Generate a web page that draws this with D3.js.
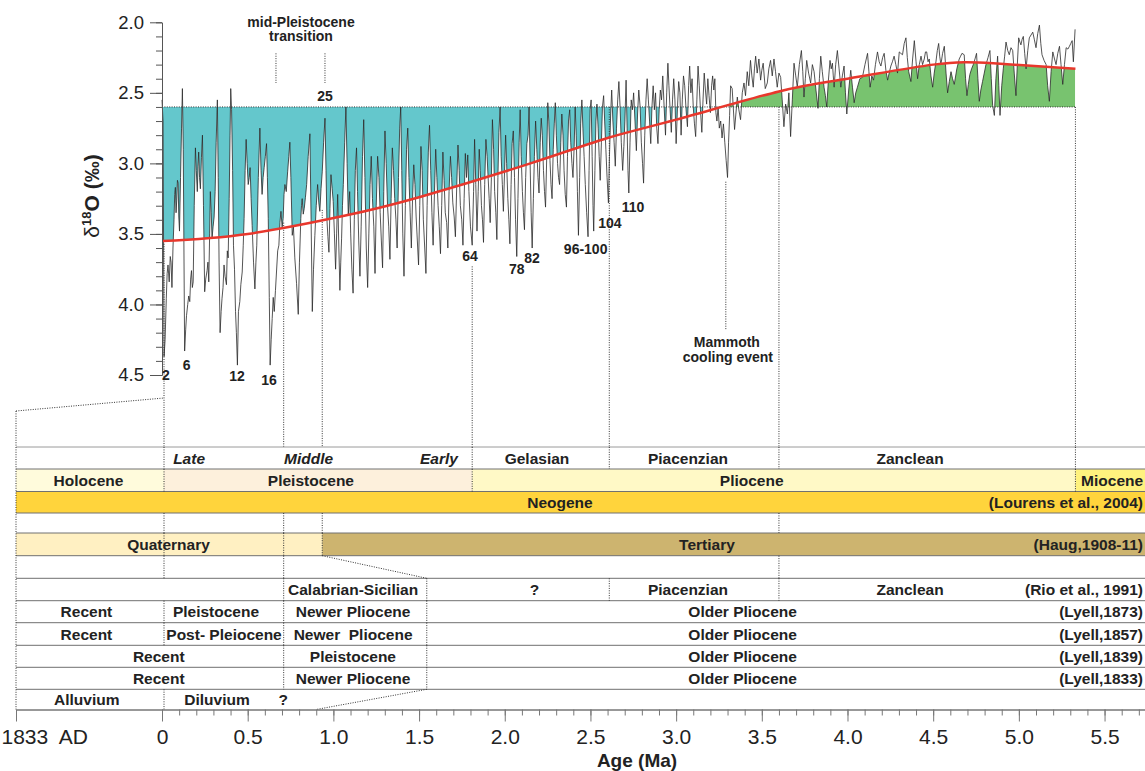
<!DOCTYPE html>
<html>
<head>
<meta charset="utf-8">
<script src="https://cdn.jsdelivr.net/npm/d3@7"></script>
<style>
  html, body { margin: 0; padding: 0; background: #fff; }
  svg { display: block; font-family: Arial, "Liberation Sans", Helvetica, sans-serif; }
</style>
</head>
<body>
<svg id="chart" width="1145" height="771"></svg>
<script>
// benthic d18O stack, [age (Ma), d18O (permil)]
const record0 = [
  [0.000,2.55],[0.006,2.70],[0.012,4.37],[0.018,4.25],[0.025,3.96],[0.030,3.78],[0.035,3.72],[0.042,3.84],
  [0.048,3.66],[0.053,3.70],[0.058,3.88],[0.064,3.60],[0.070,3.40],[0.074,3.22],[0.078,3.17],[0.082,3.35],
  [0.086,3.26],[0.090,3.12],[0.094,3.14],[0.098,3.38],[0.102,3.48],[0.108,3.10],[0.114,2.75],[0.119,2.47],
  [0.124,2.90],[0.132,4.33],[0.138,4.18],[0.143,4.08],[0.150,4.00],[0.156,3.94],[0.162,3.98],[0.167,3.82],
  [0.172,3.76],[0.177,3.88],[0.182,3.84],[0.188,3.30],[0.195,2.89],[0.200,3.05],[0.206,3.20],[0.210,3.02],
  [0.214,2.92],[0.219,3.10],[0.224,3.18],[0.230,2.96],[0.236,2.80],[0.242,3.30],[0.249,3.91],[0.255,3.82],
  [0.263,3.76],[0.268,3.70],[0.273,3.84],[0.278,3.50],[0.282,3.20],[0.287,3.35],[0.292,3.53],[0.298,3.45],
  [0.304,3.38],[0.310,3.20],[0.316,2.85],[0.323,2.55],[0.328,3.10],[0.333,3.70],[0.339,4.20],[0.345,4.05],
  [0.350,3.96],[0.356,3.88],[0.362,3.72],[0.368,3.80],[0.376,3.86],[0.381,3.62],[0.386,3.67],[0.392,3.25],
  [0.397,2.80],[0.401,2.47],[0.406,2.62],[0.412,3.05],[0.417,3.58],[0.423,3.75],[0.429,4.05],[0.434,4.20],
  [0.440,4.43],[0.446,4.05],[0.454,3.98],[0.460,3.86],[0.468,3.77],[0.474,3.58],[0.479,3.39],[0.485,3.05],
  [0.491,2.83],[0.497,3.00],[0.503,3.15],[0.509,3.10],[0.514,3.03],[0.520,3.25],[0.526,3.44],[0.534,3.70],
  [0.542,3.89],[0.548,3.70],[0.553,3.58],[0.562,3.10],[0.571,2.75],[0.578,3.05],[0.584,3.22],[0.590,3.10],
  [0.596,3.03],[0.603,2.95],[0.610,2.86],[0.615,3.10],[0.620,3.39],[0.626,3.95],[0.631,4.43],[0.637,4.25],
  [0.643,4.10],[0.649,3.95],[0.655,4.05],[0.662,3.90],[0.668,3.77],[0.675,3.62],[0.682,3.58],[0.688,3.42],
  [0.694,3.34],[0.701,3.45],[0.707,3.39],[0.712,3.22],[0.717,3.15],[0.725,3.20],[0.733,3.06],[0.740,2.95],
  [0.746,2.85],[0.752,3.10],[0.760,3.51],[0.767,3.45],[0.775,3.67],[0.785,3.85],[0.795,4.07],[0.802,3.70],
  [0.810,3.39],[0.814,3.30],[0.818,3.25],[0.824,3.36],[0.830,3.32],[0.837,3.24],[0.844,3.15],[0.853,2.95],
  [0.863,2.79],[0.870,3.40],[0.877,4.05],[0.884,3.75],[0.892,3.51],[0.900,3.30],[0.908,3.15],[0.915,3.28],
  [0.921,3.34],[0.928,3.18],[0.935,3.06],[0.943,2.85],[0.951,2.68],[0.957,3.05],[0.962,3.39],[0.968,3.52],
  [0.974,3.63],[0.980,3.32],[0.986,3.08],[0.993,3.18],[0.999,3.27],[1.006,3.50],[1.013,3.75],[1.019,3.50],
  [1.025,3.22],[1.032,3.60],[1.038,3.90],[1.043,3.70],[1.048,3.53],[1.053,3.30],[1.058,3.15],[1.066,2.85],
  [1.073,2.60],[1.080,3.00],[1.087,3.37]
];
const record1 = [
  [1.095,3.20],[1.101,3.50],[1.108,3.75],[1.115,3.92],[1.122,3.40],[1.128,3.05],[1.135,2.89],[1.141,3.20],
  [1.148,3.55],[1.155,3.80],[1.162,3.45],[1.170,2.95],[1.177,2.69],[1.184,3.10],[1.192,3.60],[1.200,3.88],
  [1.207,3.50],[1.214,3.15],[1.221,2.95],[1.228,3.25],[1.236,3.45],[1.243,3.78],[1.250,3.30],[1.258,2.95],
  [1.266,3.10],[1.273,3.35],[1.280,3.55],[1.287,3.74],[1.294,3.20],[1.301,2.77],[1.308,3.00],[1.316,3.30],
  [1.323,3.45],[1.330,3.68],[1.337,3.25],[1.344,2.89],[1.351,3.05],[1.358,3.25],[1.365,3.40],[1.372,3.60],
  [1.380,3.10],[1.387,2.75],[1.393,2.60],[1.399,3.05],[1.405,3.50],[1.412,3.80],[1.420,3.30],[1.427,2.90],
  [1.434,2.75],[1.441,3.10],[1.448,3.35],[1.455,3.60],[1.462,3.25],[1.469,3.01],[1.476,3.15],[1.483,3.38],
  [1.490,3.55],[1.497,3.72],[1.504,3.30],[1.511,2.88],[1.518,3.05],[1.525,3.40],[1.533,3.60],[1.540,3.78],
  [1.547,3.30],[1.554,2.92],[1.561,2.73],[1.568,3.05],[1.575,3.35],[1.582,3.58],[1.590,3.20],[1.597,2.90],
  [1.604,3.10],[1.611,3.30],[1.618,3.45],[1.625,3.64],[1.632,3.30],[1.639,2.92],[1.646,3.12],[1.653,3.35],
  [1.661,3.42],[1.668,3.60],[1.675,3.20],[1.683,2.95],[1.690,3.10],[1.697,3.28],[1.705,3.38],[1.712,3.52],
  [1.720,3.15],[1.727,2.87],[1.734,3.05],[1.741,3.30],[1.749,3.40],[1.756,3.58],[1.763,3.25],[1.770,2.93],
  [1.777,3.10],[1.784,2.94],[1.791,3.20],[1.800,3.45],[1.810,3.58],[1.818,3.20],[1.824,2.83],[1.831,3.15],
  [1.838,3.48],[1.845,3.20],[1.851,2.90],[1.857,3.05],[1.864,3.30],[1.870,3.40],[1.876,3.56],[1.883,3.15],
  [1.890,2.83],[1.897,2.95],[1.903,3.10],[1.909,3.25],[1.915,3.42],[1.922,3.10],[1.928,2.69],[1.935,2.90],
  [1.941,3.20],[1.948,3.35],[1.954,3.54],[1.960,3.10],[1.966,2.78],[1.973,2.60],[1.979,2.95],[1.986,3.15],
  [1.992,3.34],[1.999,3.05],[2.005,2.80],[2.011,3.00],[2.018,3.25],[2.024,3.40],[2.030,3.57],[2.037,3.15],
  [2.043,2.86],[2.050,2.77],[2.057,3.10],[2.063,3.40],[2.070,3.66],[2.077,3.25],[2.084,2.85],[2.090,2.62],
  [2.096,2.95],[2.103,3.20],[2.109,3.35],[2.115,3.47],[2.122,3.10],[2.129,2.86],[2.136,2.80],[2.142,2.60],
  [2.148,3.00],[2.154,3.35],[2.160,3.60],[2.167,3.25]
];
const record2 = [
  [2.173,2.95],[2.180,2.70],[2.187,2.90],[2.194,3.10],[2.200,3.21],[2.207,2.85],[2.213,2.68],[2.219,2.80],
  [2.226,3.05],[2.232,3.20],[2.238,3.31],[2.245,2.95],[2.251,2.57],[2.257,2.70],[2.264,2.98],[2.270,3.15],
  [2.276,3.25],[2.283,2.90],[2.289,2.72],[2.295,2.57],[2.301,2.80],[2.308,3.00],[2.314,3.10],[2.320,3.15],
  [2.327,2.85],[2.333,2.65],[2.340,2.80],[2.346,3.05],[2.353,3.22],[2.360,3.31],[2.366,2.95],[2.372,2.70],
  [2.379,2.62],[2.385,2.85],[2.392,3.00],[2.398,3.10],[2.405,2.88],[2.411,2.60],[2.417,2.80],[2.424,3.20],
  [2.430,3.51],[2.437,3.10],[2.443,2.72],[2.450,2.55],[2.456,2.75],[2.463,2.95],[2.470,3.15],[2.478,3.35],
  [2.486,3.52],[2.492,3.05],[2.498,2.62],[2.504,2.55],[2.510,2.95],[2.515,3.30],[2.519,3.48],[2.526,3.05],
  [2.532,2.70],[2.538,2.58],[2.545,2.75],[2.551,2.95],[2.557,3.12],[2.564,2.85],[2.570,2.60],[2.577,2.52],
  [2.583,2.70],[2.590,2.90],[2.597,3.10],[2.605,3.28],[2.611,2.95],[2.618,2.65],[2.624,2.48],[2.631,2.70],
  [2.638,2.85],[2.645,3.02],[2.652,2.75],[2.659,2.55],[2.666,2.42],[2.673,2.60],[2.680,2.85],[2.688,3.05],
  [2.695,2.88],[2.701,2.70],[2.708,2.41],[2.714,2.75],[2.719,3.05],[2.724,3.21],[2.731,2.85],[2.738,2.55],
  [2.745,2.62],[2.752,2.50],[2.760,2.70],[2.768,2.91],[2.775,2.65],[2.782,2.48],[2.790,2.60],[2.797,2.85],
  [2.804,3.00],[2.810,3.14],[2.817,2.80],[2.824,2.55],[2.831,2.40],[2.838,2.55],[2.845,2.70],[2.852,2.86],
  [2.859,2.60],[2.866,2.45],[2.873,2.62],[2.880,2.50],[2.887,2.75],[2.894,2.86],[2.901,2.62],[2.908,2.48],
  [2.915,2.55],[2.922,2.38],[2.930,2.60],[2.938,2.80],[2.945,2.50],[2.952,2.29],[2.958,2.45],[2.965,2.62],
  [2.972,2.78],[2.979,2.55],[2.986,2.40],[2.993,2.55],[3.000,2.86],[3.008,2.60],[3.015,2.42],[3.022,2.50],
  [3.029,2.80],[3.036,2.55],[3.043,2.38],[3.050,2.45],[3.058,2.62],[3.066,2.74],[3.073,2.45],[3.079,2.31],
  [3.086,2.50],[3.093,2.40],[3.100,2.60],[3.107,2.72],[3.114,2.81],[3.121,2.55],[3.128,2.31],[3.135,2.45],
  [3.142,2.62],[3.150,2.78],[3.157,2.55],[3.164,2.36],[3.171,2.48],[3.178,2.58],[3.185,2.40],[3.192,2.52],
  [3.200,2.64],[3.207,2.45],[3.213,2.38],[3.220,2.48],[3.226,2.40],[3.232,2.64],[3.238,2.70],[3.245,2.60],
  [3.252,2.75],[3.260,2.70],[3.268,2.82],[3.276,2.72],[3.284,2.85],[3.292,2.98],[3.300,3.10],[3.306,2.85],
  [3.312,2.66],[3.318,2.45]
];
const record3 = [
  [3.327,2.47],[3.341,2.76],[3.357,2.53],[3.366,2.62],[3.376,2.69],[3.386,2.50],[3.396,2.43],[3.405,2.52],
  [3.415,2.35],[3.424,2.45],[3.434,2.27],[3.442,2.38],[3.450,2.46],[3.457,2.33],[3.464,2.24],[3.473,2.36],
  [3.483,2.26],[3.493,2.41],[3.500,2.34],[3.508,2.29],[3.520,2.47],[3.532,2.43],[3.541,2.33],[3.551,2.27],
  [3.561,2.38],[3.571,2.26],[3.580,2.35],[3.590,2.46],[3.600,2.36],[3.610,2.39],[3.619,2.55],[3.629,2.74],
  [3.639,2.58],[3.649,2.65],[3.658,2.50],[3.668,2.81],[3.678,2.55],[3.688,2.29],[3.698,2.38],[3.707,2.46],
  [3.719,2.30],[3.731,2.20],[3.739,2.35],[3.746,2.53],[3.754,2.40],[3.762,2.27],[3.773,2.36],[3.785,2.43],
  [3.795,2.30],[3.805,2.35],[3.816,2.48],[3.828,2.61],[3.836,2.40],[3.844,2.24],[3.853,2.35],[3.863,2.46],
  [3.871,2.52],[3.879,2.60],[3.888,2.42],[3.898,2.27],[3.905,2.33],[3.912,2.29],[3.917,2.38],[3.922,2.46],
  [3.931,2.30],[3.941,2.20],[3.951,2.33],[3.961,2.46],[3.970,2.38],[3.980,2.31],[3.988,2.50],[3.996,2.65],
  [4.007,2.48],[4.019,2.34],[4.029,2.46],[4.039,2.57],[4.048,2.50],[4.058,2.46],[4.072,2.40],[4.087,2.39],
  [4.102,2.30],[4.117,2.22],[4.125,2.35],[4.132,2.46],[4.142,2.38],[4.152,2.41],[4.163,2.30],[4.175,2.21],
  [4.185,2.28],[4.195,2.31],[4.205,2.25],[4.214,2.22],[4.224,2.34],[4.234,2.41],[4.243,2.36],[4.253,2.31],
  [4.262,2.28],[4.272,2.24],[4.282,2.30],[4.292,2.36],[4.302,2.21],[4.311,2.22],[4.321,2.23],[4.331,2.15],
  [4.341,2.11],[4.349,2.25],[4.357,2.35],[4.370,2.42],[4.380,2.26],[4.390,2.13],[4.400,2.28],[4.409,2.40],
  [4.419,2.30],[4.429,2.24],[4.438,2.30],[4.448,2.26],[4.455,2.21],[4.462,2.21],[4.470,2.28],[4.477,2.26],
  [4.487,2.38],[4.497,2.46],[4.506,2.36],[4.516,2.28],[4.524,2.20],[4.532,2.15],[4.538,2.24],[4.545,2.30],
  [4.555,2.22],[4.565,2.17],[4.575,2.36],[4.584,2.50],[4.594,2.42],[4.604,2.35],[4.613,2.40],[4.623,2.44],
  [4.638,2.33],[4.652,2.26],[4.660,2.24],[4.668,2.22],[4.681,2.23],[4.689,2.40],[4.697,2.52],[4.705,2.44],
  [4.714,2.37],[4.724,2.33],[4.734,2.30],[4.744,2.26],[4.753,2.22],[4.761,2.40],[4.769,2.56],[4.778,2.48],
  [4.788,2.42],[4.798,2.36],[4.808,2.30],[4.820,2.25],[4.831,2.20],[4.839,2.40],[4.847,2.59],[4.857,2.66],
  [4.866,2.40],[4.876,2.24],[4.883,2.45],[4.890,2.66],[4.900,2.45],[4.909,2.33],[4.917,2.24],[4.925,2.14],
  [4.935,2.20],[4.944,2.23],[4.954,2.18],[4.964,2.20],[4.973,2.36],[4.983,2.52],[4.991,2.30],[4.999,2.11],
  [5.006,2.14],[5.012,2.16],[5.019,2.12],[5.026,2.10],[5.034,2.22],[5.042,2.33],[5.052,2.20],[5.061,2.11],
  [5.071,2.09],[5.081,2.07],[5.090,2.12],[5.100,2.18],[5.110,2.08],[5.120,2.02],[5.128,2.15],[5.135,2.23],
  [5.147,2.27],[5.159,2.30],[5.168,2.45],[5.178,2.56],[5.188,2.35],[5.198,2.21],[5.208,2.26],[5.217,2.30],
  [5.227,2.22],[5.237,2.17],[5.246,2.30],[5.256,2.44],[5.266,2.30],[5.276,2.18],[5.286,2.19],[5.295,2.17],
  [5.303,2.15],[5.311,2.13],[5.318,2.28],[5.328,2.05]
];

// smoothed long-term trend (red line)
const trend = [
  [0,3.55],[0.5,3.50],[1.07,3.37],[1.5,3.24],[2.15,3.00],[2.6,2.82],[3.0,2.69],
  [3.6,2.49],[4.0,2.40],[4.5,2.30],[4.85,2.29],[5.33,2.33]
];
const baseline = 2.6;     // dotted reference level
const recordEnd = 5.33;

const AD = -0.852;        // schematic position of the "1833 AD" tick on the age axis
const END = 5.736;        // right edge of the timescale table

const yMajor = [2.0, 2.5, 3.0, 3.5, 4.0, 4.5];
const yMinor = d3.range(20, 46).map(d => d / 10);
const xMajor = [AD, 0, 0.5, 1.0, 1.5, 2.0, 2.5, 3.0, 3.5, 4.0, 4.5, 5.0, 5.5];
const xMinor = d3.range(0, 58).map(d => d / 10);

// marine isotope stage numbers and notes on the curve: [text, age, d18O]
const stageLabels = [
  ["2",0.022,4.50],["6",0.144,4.43],["12",0.438,4.51],["16",0.624,4.535],["25",0.951,2.52],
  ["64",1.797,3.66],["78",2.070,3.75],["82",2.159,3.67],["96-100",2.472,3.61],["104",2.614,3.42],["110",2.748,3.31],
  ["mid-Pleistocene",0.811,2.00],["transition",0.811,2.10],
  ["Mammoth",3.296,4.27],["cooling event",3.302,4.375]
];

// dotted guides in the plot: age, top and bottom in d18O (bottom null = down to the table)
const guides = [
  [0.0117,3.57,null],[0.71,3.42,null],[0.935,3.33,null],[1.81,3.73,null],
  [2.61,2.6,null],[3.60,2.6,null],[5.33,2.6,null],
  [0.665,2.22,2.43],[0.951,2.22,2.43],[3.29,3.13,4.18]
];

// timescale table: one entry per row slot
const tableRows = [
  {slot:0, seps:[0.0117,1.81,2.61,3.60,5.33], labels:[["Late",0.158,1],["Middle",0.855,1],["Early",1.616,1],
    ["Gelasian",2.188],["Piacenzian",3.069],["Zanclean",4.365]]},
  {slot:1, seps:[0.0117,1.81,5.33], bars:[["Holocene",AD,0.0117],["Pleistocene",0.0117,1.81],["Pliocene",1.81,5.33],["Miocene",5.33,END]],
    labels:[["Holocene",-0.429],["Pleistocene",0.869],["Pliocene",3.441],["Miocene",5.544]]},
  {slot:2, seps:[], bars:[["Neogene",AD,END]], labels:[["Neogene",2.322]], ref:"(Lourens et al., 2004)"},
  {slot:3, seps:[0.0117,0.71,0.935,3.60], labels:[]},
  {slot:4, seps:[0.0117,0.71,0.935], bars:[["Quaternary",AD,0.935],["Tertiary",0.935,END]],
    labels:[["Quaternary",0.038],["Tertiary",3.18]], ref:"(Haug,1908-11)"},
  {slot:5, seps:[0.0117,0.71,3.60], slant:[0.935,1.545], labels:[]},
  {slot:6, seps:[0.71,1.545,2.61,3.60], labels:[["Calabrian-Sicilian",1.115],["?",2.174],["Piacenzian",3.069],["Zanclean",4.365]],
    ref:"(Rio et al., 1991)"},
  {slot:7, seps:[0.0117,0.71,1.545], labels:[["Recent",-0.441],["Pleistocene",0.315],["Newer Pliocene",1.115],["Older Pliocene",3.388]],
    ref:"(Lyell,1873)"},
  {slot:8, seps:[0.0117,0.71,1.545], labels:[["Recent",-0.441],["Post- Pleiocene",0.362],["Newer  Pliocene",1.115],["Older Pliocene",3.388]],
    ref:"(Lyell,1857)"},
  {slot:9, seps:[0.71,1.545], labels:[["Recent",-0.019],["Pleistocene",1.114],["Older Pliocene",3.388]], ref:"(Lyell,1839)"},
  {slot:10, seps:[0.71,1.545], labels:[["Recent",-0.019],["Newer Pliocene",1.115],["Older Pliocene",3.388]], ref:"(Lyell,1833)"},
  {slot:11, seps:[0.0117], slant:[1.545,0.899], labels:[["Alluvium",-0.439],["Diluvium",0.321],["?",0.708]]}
];

const barColor = {
  Holocene:"#fffbdc", Pleistocene:"#fdf0dc", Pliocene:"#fff9c6", Miocene:"#fff27e",
  Neogene:"#ffd43c", Quaternary:"#fff0c2", Tertiary:"#cdb46f"
};

// ---------------------------------------------------------------
const width = 1145, height = 771;
const rowEdges = [447, 469, 491.5, 513, 533, 555.7, 578.3, 600.7, 622.7, 645.3, 667.3, 689.3, 709.5];
const gapTop = 398, gapLeft = 411;   // where the dotted lead-in meets the table

const x = d3.scaleLinear().domain([AD, END]).range([16, 1145]);
const y = d3.scaleLinear().domain([2.0, 4.5]).range([22.3, 375]);

const svg = d3.select("#chart");
const record = record0.concat(record1, record2, record3);
const dotted = "1,1.4";
const ink = "#222";

// --- fills between the 2.6 level, the record and the trend ---
const defs = svg.append("defs");
const trendArea = d3.area().curve(d3.curveNatural)
    .x(d => x(d[0])).y0(y(baseline)).y1(d => y(d[1]));
const dataArea = d3.area()
    .x(d => x(d[0])).y0(y(baseline)).y1(d => y(d[1]));

defs.append("clipPath").attr("id", "clip-trend")
  .append("path").attr("d", trendArea(trend));
defs.append("clipPath").attr("id", "clip-below")
  .append("rect").attr("x", 0).attr("y", y(baseline)).attr("width", width).attr("height", height);
defs.append("clipPath").attr("id", "clip-above")
  .append("rect").attr("x", 0).attr("y", 0).attr("width", width).attr("height", y(baseline));

const fillG = svg.append("g").attr("clip-path", "url(#clip-trend)");
fillG.append("path").attr("d", dataArea(record)).attr("fill", "#64c7cc").attr("clip-path", "url(#clip-below)");
fillG.append("path").attr("d", dataArea(record)).attr("fill", "#78c36f").attr("clip-path", "url(#clip-above)");

svg.append("line")
    .attr("x1", x(0)).attr("x2", x(recordEnd))
    .attr("y1", y(baseline)).attr("y2", y(baseline))
    .attr("stroke", "#333").attr("stroke-dasharray", dotted);

// --- dotted guides ---
const guideG = svg.append("g").attr("stroke", "#333").attr("stroke-dasharray", dotted).attr("fill", "none");
guides.forEach(([age, top, bottom]) => {
  guideG.append("line")
      .attr("x1", x(age)).attr("x2", x(age))
      .attr("y1", y(top)).attr("y2", bottom == null ? rowEdges[0] : y(bottom));
});
guideG.append("line").attr("x1", x(AD)).attr("x2", x(0.0117)).attr("y1", gapLeft).attr("y2", gapTop);

// --- record and trend ---
svg.append("path")
    .attr("d", d3.line().x(d => x(d[0])).y(d => y(d[1]))(record))
    .attr("fill", "none").attr("stroke", "#2a2a2a").attr("stroke-width", 0.8)
    .attr("stroke-linejoin", "round");

svg.append("path")
    .attr("d", d3.line().curve(d3.curveNatural).x(d => x(d[0])).y(d => y(d[1]))(trend))
    .attr("fill", "none").attr("stroke", "#e8372c").attr("stroke-width", 2.5);

// --- y axis ---
const yMinorG = svg.append("g").attr("transform", `translate(${x(0)},0)`)
    .call(d3.axisLeft(y).tickValues(yMinor).tickSize(6).tickFormat("").tickSizeOuter(0));
const yAxisG = svg.append("g").attr("transform", `translate(${x(0)},0)`)
    .call(d3.axisLeft(y).tickValues(yMajor).tickSize(12).tickPadding(6)
      .tickFormat(d3.format(".1f")).tickSizeOuter(0));
[yMinorG, yAxisG].forEach(g => {
  g.selectAll("path, line").attr("stroke", "#555");
  g.attr("font-family", null).attr("font-size", null);
});
yAxisG.selectAll("text").attr("fill", ink).style("font-size", "18.5px");

const yTitle = svg.append("text")
    .attr("transform", "translate(92,196) rotate(-90)")
    .attr("text-anchor", "middle").attr("dy", "0.35em")
    .attr("fill", ink).style("font-size", "21px").style("font-weight", "bold");
yTitle.append("tspan").style("font-weight", "normal").text("δ");
yTitle.append("tspan").attr("dy", -8).style("font-size", "13px").text("18");
yTitle.append("tspan").attr("dy", 8).text("O (‰)");

// --- annotations on the curve ---
svg.append("g").selectAll("text").data(stageLabels).join("text")
    .attr("x", d => x(d[1])).attr("y", d => y(d[2])).attr("dy", "0.35em")
    .attr("text-anchor", "middle").attr("fill", ink)
    .style("font-size", "14px").style("font-weight", "bold")
    .text(d => d[0]);

// --- timescale table ---
const table = svg.append("g");
const slotTop = s => rowEdges[s], slotBot = s => rowEdges[s + 1];

tableRows.forEach(r => {
  (r.bars || []).forEach(([name, from, to]) => {
    table.append("rect")
        .attr("x", x(from)).attr("width", x(to) - x(from))
        .attr("y", slotTop(r.slot)).attr("height", slotBot(r.slot) - slotTop(r.slot))
        .attr("fill", barColor[name]);
  });
});

rowEdges.slice(0, -1).forEach((e, i) => {
  table.append("line")
      .attr("x1", x(AD)).attr("x2", x(END)).attr("y1", e).attr("y2", e)
      .attr("stroke", i === 0 ? "#9a9a9a" : "#707070").attr("stroke-width", 1);
});

const sepG = table.append("g").attr("stroke", "#333").attr("stroke-dasharray", dotted);
tableRows.forEach(r => {
  r.seps.forEach(a => {
    sepG.append("line").attr("x1", x(a)).attr("x2", x(a))
        .attr("y1", slotTop(r.slot)).attr("y2", slotBot(r.slot));
  });
  if (r.slant) {
    sepG.append("line")
        .attr("x1", x(r.slant[0])).attr("y1", slotTop(r.slot))
        .attr("x2", x(r.slant[1])).attr("y2", slotBot(r.slot));
  }
});
sepG.append("line").attr("x1", x(AD)).attr("x2", x(AD)).attr("y1", gapLeft).attr("y2", rowEdges[rowEdges.length - 1]);

tableRows.forEach(r => {
  const cy = (slotTop(r.slot) + slotBot(r.slot)) / 2;
  r.labels.forEach(([txt, at, italic]) => {
    table.append("text")
        .attr("x", x(at)).attr("y", cy).attr("dy", "0.36em")
        .attr("text-anchor", "middle").attr("fill", ink)
        .style("font-size", "15.5px").style("font-weight", "bold")
        .style("font-style", italic ? "italic" : "normal")
        .style("white-space", "pre")
        .text(txt);
  });
  if (r.ref) {
    table.append("text")
        .attr("x", x(END) - 2).attr("y", cy).attr("dy", "0.36em")
        .attr("text-anchor", "end").attr("fill", ink)
        .style("font-size", "15.5px").style("font-weight", "bold")
        .text(r.ref);
  }
});

// --- age axis ---
const axisY = rowEdges[rowEdges.length - 1];
const xMinorG = svg.append("g").attr("transform", `translate(0,${axisY})`)
    .call(d3.axisBottom(x).tickValues(xMinor).tickSize(6).tickFormat("").tickSizeOuter(0));
const xAxisG = svg.append("g").attr("transform", `translate(0,${axisY})`)
    .call(d3.axisBottom(x).tickValues(xMajor).tickSize(12).tickPadding(8).tickSizeOuter(0)
      .tickFormat(d => d === AD ? "1833  AD" : d === 0 ? "0" : d3.format(".1f")(d)));
[xMinorG, xAxisG].forEach(g => {
  g.selectAll("path, line").attr("stroke", "#777");
  g.attr("font-family", null).attr("font-size", null);
});
xAxisG.selectAll("text").attr("fill", ink).style("font-size", "21px").style("white-space", "pre");
xAxisG.selectAll(".tick").filter(d => d === AD).select("text")
    .attr("text-anchor", "start").attr("x", -15);

svg.append("text")
    .attr("x", 637).attr("y", 760).attr("dy", "0.35em")
    .attr("text-anchor", "middle").attr("fill", ink)
    .style("font-size", "19px").style("font-weight", "bold")
    .text("Age (Ma)");
</script>
</body>
</html>
